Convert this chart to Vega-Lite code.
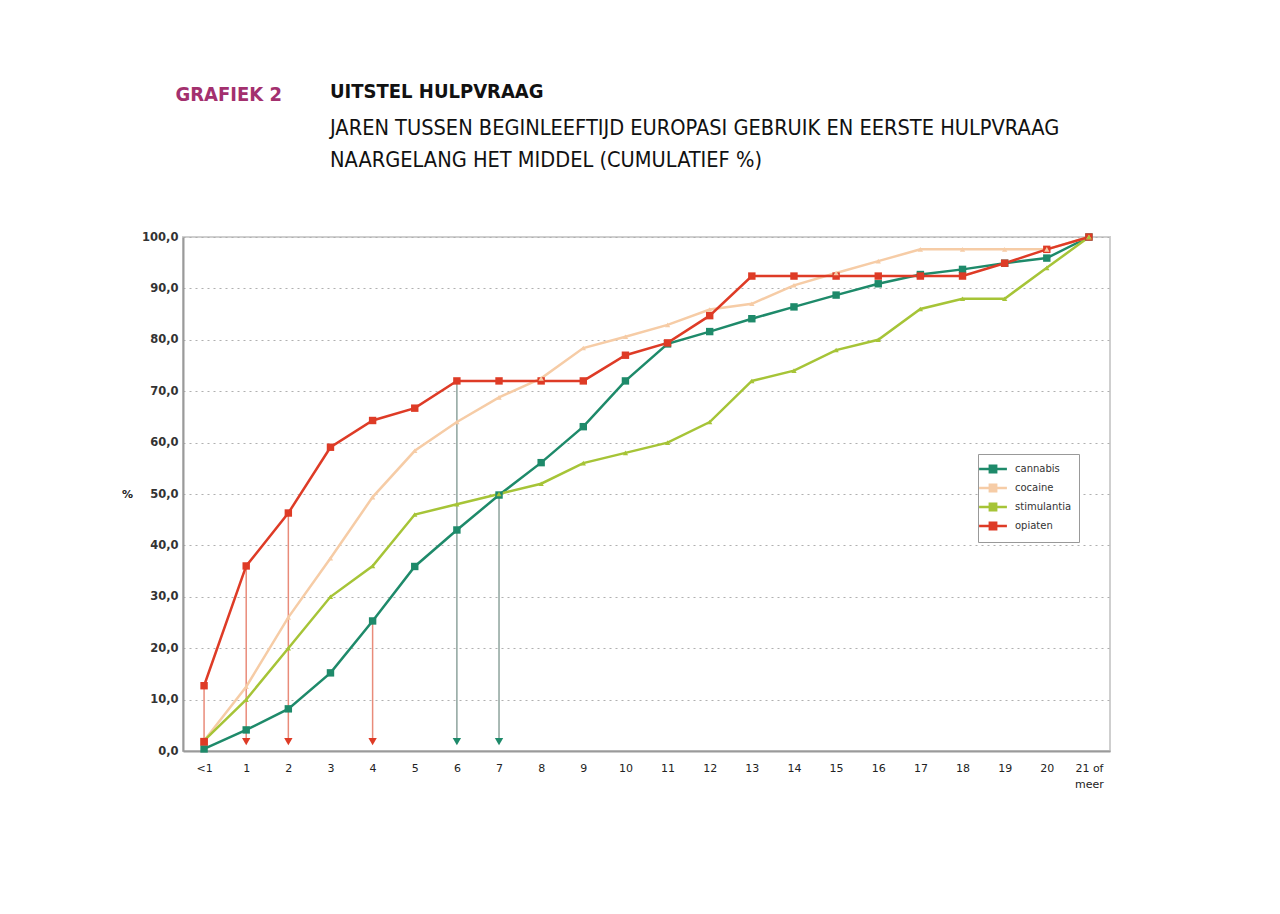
{
  "$schema": "https://vega.github.io/schema/vega-lite/v6.json",
  "background": "white",
  "padding": {"left": 120, "top": 81, "right": 10, "bottom": 10},
  "title": {
    "text": "GRAFIEK 2",
    "anchor": "start",
    "color": "#a3306e",
    "font": "Liberation Sans Narrow, DejaVu Sans Condensed, sans-serif",
    "fontSize": 20,
    "fontWeight": "bold",
    "dx": 55,
    "offset": -24
  },
  "datasets": {
    "series": [
      {"x": "<1", "middel": "cannabis", "pct": 0.4},
      {"x": "1", "middel": "cannabis", "pct": 4.1},
      {"x": "2", "middel": "cannabis", "pct": 8.2},
      {"x": "3", "middel": "cannabis", "pct": 15.2},
      {"x": "4", "middel": "cannabis", "pct": 25.3},
      {"x": "5", "middel": "cannabis", "pct": 35.9},
      {"x": "6", "middel": "cannabis", "pct": 43.0},
      {"x": "7", "middel": "cannabis", "pct": 49.8},
      {"x": "8", "middel": "cannabis", "pct": 56.1},
      {"x": "9", "middel": "cannabis", "pct": 63.1},
      {"x": "10", "middel": "cannabis", "pct": 72.0},
      {"x": "11", "middel": "cannabis", "pct": 79.2},
      {"x": "12", "middel": "cannabis", "pct": 81.6},
      {"x": "13", "middel": "cannabis", "pct": 84.1},
      {"x": "14", "middel": "cannabis", "pct": 86.4},
      {"x": "15", "middel": "cannabis", "pct": 88.7},
      {"x": "16", "middel": "cannabis", "pct": 90.9},
      {"x": "17", "middel": "cannabis", "pct": 92.7},
      {"x": "18", "middel": "cannabis", "pct": 93.7},
      {"x": "19", "middel": "cannabis", "pct": 94.9},
      {"x": "20", "middel": "cannabis", "pct": 95.9},
      {"x": "21 of meer", "middel": "cannabis", "pct": 100},
      {"x": "<1", "middel": "cocaine", "pct": 2.0},
      {"x": "1", "middel": "cocaine", "pct": 12.5},
      {"x": "2", "middel": "cocaine", "pct": 26.0},
      {"x": "3", "middel": "cocaine", "pct": 37.5},
      {"x": "4", "middel": "cocaine", "pct": 49.4},
      {"x": "5", "middel": "cocaine", "pct": 58.4},
      {"x": "6", "middel": "cocaine", "pct": 64.0},
      {"x": "7", "middel": "cocaine", "pct": 68.8},
      {"x": "8", "middel": "cocaine", "pct": 72.5},
      {"x": "9", "middel": "cocaine", "pct": 78.4},
      {"x": "10", "middel": "cocaine", "pct": 80.6},
      {"x": "11", "middel": "cocaine", "pct": 82.9},
      {"x": "12", "middel": "cocaine", "pct": 85.9},
      {"x": "13", "middel": "cocaine", "pct": 87.0},
      {"x": "14", "middel": "cocaine", "pct": 90.6},
      {"x": "15", "middel": "cocaine", "pct": 93.0},
      {"x": "16", "middel": "cocaine", "pct": 95.3},
      {"x": "17", "middel": "cocaine", "pct": 97.6},
      {"x": "18", "middel": "cocaine", "pct": 97.6},
      {"x": "19", "middel": "cocaine", "pct": 97.6},
      {"x": "20", "middel": "cocaine", "pct": 97.6},
      {"x": "21 of meer", "middel": "cocaine", "pct": 100},
      {"x": "<1", "middel": "stimulantia", "pct": 2.0},
      {"x": "1", "middel": "stimulantia", "pct": 10.0},
      {"x": "2", "middel": "stimulantia", "pct": 20.0},
      {"x": "3", "middel": "stimulantia", "pct": 30.0},
      {"x": "4", "middel": "stimulantia", "pct": 36.0},
      {"x": "5", "middel": "stimulantia", "pct": 46.0},
      {"x": "6", "middel": "stimulantia", "pct": 48.0},
      {"x": "7", "middel": "stimulantia", "pct": 50.0},
      {"x": "8", "middel": "stimulantia", "pct": 52.0},
      {"x": "9", "middel": "stimulantia", "pct": 56.0},
      {"x": "10", "middel": "stimulantia", "pct": 58.0},
      {"x": "11", "middel": "stimulantia", "pct": 60.0},
      {"x": "12", "middel": "stimulantia", "pct": 64.0},
      {"x": "13", "middel": "stimulantia", "pct": 72.0},
      {"x": "14", "middel": "stimulantia", "pct": 74.0},
      {"x": "15", "middel": "stimulantia", "pct": 78.0},
      {"x": "16", "middel": "stimulantia", "pct": 80.0},
      {"x": "17", "middel": "stimulantia", "pct": 86.0},
      {"x": "18", "middel": "stimulantia", "pct": 88.0},
      {"x": "19", "middel": "stimulantia", "pct": 88.0},
      {"x": "20", "middel": "stimulantia", "pct": 94.0},
      {"x": "21 of meer", "middel": "stimulantia", "pct": 100},
      {"x": "<1", "middel": "opiaten", "pct": 12.7},
      {"x": "1", "middel": "opiaten", "pct": 36.0},
      {"x": "2", "middel": "opiaten", "pct": 46.3},
      {"x": "3", "middel": "opiaten", "pct": 59.1},
      {"x": "4", "middel": "opiaten", "pct": 64.3},
      {"x": "5", "middel": "opiaten", "pct": 66.7},
      {"x": "6", "middel": "opiaten", "pct": 72.0},
      {"x": "7", "middel": "opiaten", "pct": 72.0},
      {"x": "8", "middel": "opiaten", "pct": 72.0},
      {"x": "9", "middel": "opiaten", "pct": 72.0},
      {"x": "10", "middel": "opiaten", "pct": 77.0},
      {"x": "11", "middel": "opiaten", "pct": 79.4},
      {"x": "12", "middel": "opiaten", "pct": 84.7},
      {"x": "13", "middel": "opiaten", "pct": 92.4},
      {"x": "14", "middel": "opiaten", "pct": 92.4},
      {"x": "15", "middel": "opiaten", "pct": 92.4},
      {"x": "16", "middel": "opiaten", "pct": 92.4},
      {"x": "17", "middel": "opiaten", "pct": 92.4},
      {"x": "18", "middel": "opiaten", "pct": 92.4},
      {"x": "19", "middel": "opiaten", "pct": 94.9},
      {"x": "20", "middel": "opiaten", "pct": 97.6},
      {"x": "21 of meer", "middel": "opiaten", "pct": 100}
    ],
    "drops": [
      {"x": "<1", "middel": "opiaten", "top": 12.7, "einde": "blok"},
      {"x": "1", "middel": "opiaten", "top": 36.0, "einde": "pijl"},
      {"x": "2", "middel": "opiaten", "top": 46.3, "einde": "pijl"},
      {"x": "4", "middel": "opiaten", "top": 25.3, "einde": "pijl"},
      {"x": "6", "middel": "cannabis", "top": 72.0, "einde": "pijl"},
      {"x": "7", "middel": "cannabis", "top": 49.8, "einde": "pijl"}
    ]
  },
  "vconcat": [
    {
      "width": 927,
      "height": 514,
      "title": {
        "text": "UITSTEL HULPVRAAG",
        "subtitle": [
          "JAREN TUSSEN BEGINLEEFTIJD EUROPASI GEBRUIK EN EERSTE HULPVRAAG",
          "NAARGELANG HET MIDDEL (CUMULATIEF %)"
        ],
        "anchor": "start",
        "frame": "group",
        "dx": 147,
        "font": "Liberation Sans Narrow, DejaVu Sans Condensed, sans-serif",
        "fontSize": 20,
        "fontWeight": "bold",
        "color": "#111111",
        "subtitleFont": "Liberation Sans Narrow, DejaVu Sans Condensed, sans-serif",
        "subtitleFontSize": 21.6,
        "subtitleColor": "#111111",
        "subtitleLineHeight": 32,
        "subtitlePadding": 16,
        "offset": 59
      },
      "data": {"name": "series"},
      "encoding": {
        "x": {
          "field": "x",
          "type": "ordinal",
          "scale": {
            "type": "point",
            "padding": 0.5,
            "domain": ["<1", "1", "2", "3", "4", "5", "6", "7", "8", "9", "10", "11", "12", "13", "14", "15", "16", "17", "18", "19", "20", "21 of meer"]
          },
          "axis": {
            "title": null,
            "labelAngle": 0,
            "grid": false,
            "ticks": false,
            "domainColor": "#9a9a9a",
            "domainWidth": 2,
            "labelPadding": 11,
            "labelFont": "DejaVu Sans",
            "labelFontSize": 11,
            "labelColor": "#222222",
            "labelLineHeight": 16,
            "labelExpr": "datum.label == '21 of meer' ? ['21 of', 'meer'] : datum.label"
          }
        }
      },
      "layer": [
        {
          "data": {"name": "drops"},
          "transform": [{"filter": "datum.middel == 'opiaten'"}],
          "mark": {"type": "rule", "color": "#e98b7a", "strokeWidth": 1.5},
          "encoding": {
            "y": {"field": "top", "type": "quantitative"},
            "y2": {"datum": 1.6}
          }
        },
        {
          "data": {"name": "drops"},
          "transform": [{"filter": "datum.middel == 'cannabis'"}],
          "mark": {"type": "rule", "color": "#8ea39d", "strokeWidth": 1.5},
          "encoding": {
            "y": {"field": "top", "type": "quantitative"},
            "y2": {"datum": 1.6}
          }
        },
        {
          "mark": {"type": "line", "strokeWidth": 2.5},
          "encoding": {
            "y": {
              "field": "pct",
              "type": "quantitative",
              "scale": {"domain": [0, 100]},
              "axis": {
                "values": [0, 10, 20, 30, 40, 50, 60, 70, 80, 90, 100],
                "labelExpr": "replace(format(datum.value, '.1f'), '.', ',')",
                "title": "%",
                "titleAngle": 0,
                "titleX": -56,
                "titleY": 257,
                "titleAlign": "center",
                "titleBaseline": "middle",
                "titleFont": "DejaVu Sans",
                "titleFontSize": 11,
                "titleFontWeight": "bold",
                "titleColor": "#222222",
                "grid": true,
                "gridDash": [2, 4],
                "gridColor": "#b0b0b0",
                "gridWidth": 1.2,
                "domainColor": "#9a9a9a",
                "domainWidth": 2,
                "ticks": false,
                "labelPadding": 5,
                "labelFont": "DejaVu Sans",
                "labelFontSize": 11.5,
                "labelFontWeight": "bold",
                "labelColor": "#333333"
              }
            },
            "color": {
              "field": "middel",
              "type": "nominal",
              "scale": {
                "domain": ["cannabis", "cocaine", "stimulantia", "opiaten"],
                "range": ["#1e8a6a", "#f6cca6", "#a6c437", "#de3b26"]
              },
              "legend": {
                "title": null,
                "orient": "none",
                "legendX": 795,
                "legendY": 217,
                "symbolType": "M-2.2,0H2.2M-0.5,-0.5H0.5V0.5H-0.5Z",
                "symbolSize": 160,
                "symbolStrokeWidth": 2.5,
                "labelFont": "DejaVu Sans",
                "labelFontSize": 10,
                "labelColor": "#333333",
                "labelOffset": 14,
                "strokeColor": "#999999",
                "fillColor": "white",
                "padding": 7,
                "rowPadding": 1
              }
            }
          }
        },
        {
          "transform": [{"filter": "datum.middel == 'cannabis' || datum.middel == 'opiaten'"}],
          "mark": {"type": "point", "shape": "square", "filled": true, "opacity": 1, "size": 55},
          "encoding": {
            "y": {"field": "pct", "type": "quantitative"},
            "color": {"field": "middel", "type": "nominal"}
          }
        },
        {
          "transform": [{"filter": "datum.middel == 'cocaine' || datum.middel == 'stimulantia'"}],
          "mark": {"type": "point", "shape": "triangle-up", "filled": true, "opacity": 1, "size": 28},
          "encoding": {
            "y": {"field": "pct", "type": "quantitative"},
            "color": {"field": "middel", "type": "nominal"}
          }
        },
        {
          "data": {"name": "drops"},
          "transform": [{"filter": "datum.einde == 'pijl'"}],
          "mark": {"type": "point", "shape": "triangle-down", "filled": true, "size": 70, "opacity": 1},
          "encoding": {
            "y": {"datum": 1.8},
            "color": {"field": "middel", "type": "nominal"}
          }
        },
        {
          "data": {"name": "drops"},
          "transform": [{"filter": "datum.einde == 'blok'"}],
          "mark": {"type": "point", "shape": "square", "filled": true, "size": 60, "opacity": 1},
          "encoding": {
            "y": {"datum": 1.8},
            "color": {"field": "middel", "type": "nominal"}
          }
        }
      ]
    }
  ],
  "config": {
    "view": {"stroke": "#cfcfcf", "strokeWidth": 2},
    "font": "DejaVu Sans"
  }
}
